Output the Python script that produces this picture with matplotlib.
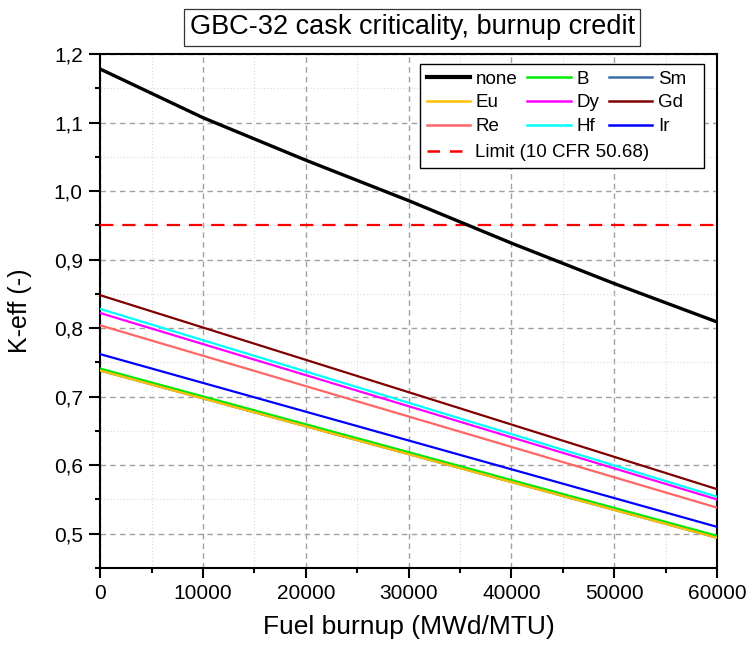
import matplotlib
matplotlib.use("Agg")
import matplotlib.pyplot as plt
from matplotlib.lines import Line2D
from matplotlib.patches import Rectangle
from matplotlib.ticker import FuncFormatter, MultipleLocator

plt.rcParams["font.family"] = ["Liberation Sans", "DejaVu Sans"]

burnup = [0, 10000, 20000, 30000, 40000, 50000, 60000]
k_none = [1.178, 1.107, 1.045, 0.986, 0.924, 0.865, 0.809]

burnup_ends = [0, 60000]
k_B = [0.741, 0.497]
k_Sm = [0.738, 0.494]
k_Eu = [0.738, 0.494]
k_Dy = [0.822, 0.550]
k_Gd = [0.848, 0.565]
k_Re = [0.804, 0.538]
k_Hf = [0.828, 0.554]
k_Ir = [0.762, 0.510]
k_limit = 0.95

series = [
    ("B", k_B, "#00ee00"),
    ("Sm", k_Sm, "#3b6ba8"),
    ("Eu", k_Eu, "#ffc000"),
    ("Dy", k_Dy, "#ff00ff"),
    ("Gd", k_Gd, "#800000"),
    ("Re", k_Re, "#ff6666"),
    ("Hf", k_Hf, "#00ffff"),
    ("Ir", k_Ir, "#0000ff"),
]

fig = plt.figure(figsize=(7.48, 6.48), dpi=100)
ax = fig.add_axes([0.134, 0.1235, 0.8246, 0.7932])

lines = {}
lines["none"], = ax.plot(burnup, k_none, color="black", lw=2.4, zorder=5)
for name, vals, col in series:
    lines[name], = ax.plot(burnup_ends, vals, color=col, lw=1.6, zorder=4)
lim_line = ax.axhline(k_limit, color="#ff0000", lw=1.6, ls=(0, (6, 4)), zorder=4)

ax.set_xlim(0, 60000)
ax.set_ylim(0.45, 1.2)
ax.xaxis.set_major_locator(MultipleLocator(10000))
ax.xaxis.set_minor_locator(MultipleLocator(5000))
ax.yaxis.set_major_locator(MultipleLocator(0.1))
ax.yaxis.set_minor_locator(MultipleLocator(0.05))
ax.yaxis.set_major_formatter(FuncFormatter(lambda v, p: f"{v:.1f}".replace(".", ",")))

ax.grid(which="major", color="#a0a0a0", ls=(0, (4, 3)), lw=1.0)
ax.grid(which="minor", color="#d8d8d8", ls=(0, (1, 2)), lw=0.8)
ax.set_axisbelow(True)

for s in ax.spines.values():
    s.set_linewidth(1.5)
ax.tick_params(which="major", width=1.5, labelsize=15, direction="out", pad=4.5)
ax.tick_params(axis="x", which="major", length=7)
ax.tick_params(axis="y", which="major", length=8)
ax.tick_params(which="minor", length=3.5, width=1.5, direction="out")

ax.set_xlabel("Fuel burnup (MWd/MTU)", fontsize=19, labelpad=9)
ax.set_ylabel("K-eff (-)", fontsize=18, labelpad=16)

fig.text(0.551, 0.958, "GBC-32 cask criticality, burnup credit", fontsize=19.5,
         ha="center", va="center",
         bbox=dict(boxstyle="square,pad=0.2", fc="white", ec="#333333", lw=0.9))

# legend: 3x3 grid of elements, limit entry on its own row below
order = ["none", "B", "Sm", "Eu", "Dy", "Gd", "Re", "Hf", "Ir"]
col_major = [order[i] for c in range(3) for i in range(c, 9, 3)]
handles = []
for n in col_major:
    h = lines[n]
    handles.append(Line2D([], [], color=h.get_color(),
                          lw=3.0 if n == "none" else 1.8))
leg1 = ax.legend(handles, col_major, ncol=3, loc="upper left",
                 bbox_to_anchor=(0.523, 0.975), frameon=False, fontsize=13.5,
                 handlelength=2.3, handletextpad=0.3, columnspacing=0.55,
                 labelspacing=0.35, borderaxespad=0, borderpad=0.2)
ax.add_artist(leg1)
leg2 = ax.legend([Line2D([], [], color="#ff0000", lw=1.8, ls=(0, (5, 4)))],
                 ["Limit (10 CFR 50.68)"], loc="upper left",
                 bbox_to_anchor=(0.523, 0.832), frameon=False, fontsize=13.5,
                 handlelength=2.3, handletextpad=0.3, borderaxespad=0,
                 borderpad=0.2)

fig.canvas.draw()
r = fig.canvas.get_renderer()
b1 = leg1.get_window_extent(r)
b2 = leg2.get_window_extent(r)
x0, y0 = min(b1.x0, b2.x0) - 3, min(b1.y0, b2.y0) - 3
x1, y1 = max(b1.x1, b2.x1) + 14, max(b1.y1, b2.y1) + 3
inv = ax.transAxes.inverted()
(ax0, ay0), (ax1, ay1) = inv.transform([(x0, y0), (x1, y1)])
ax.add_patch(Rectangle((ax0, ay0), ax1 - ax0, ay1 - ay0, transform=ax.transAxes,
                       fc="white", ec="black", lw=1.0, zorder=6))
leg1.set_zorder(7)
leg2.set_zorder(7)

fig.savefig("out.png", dpi=100)
